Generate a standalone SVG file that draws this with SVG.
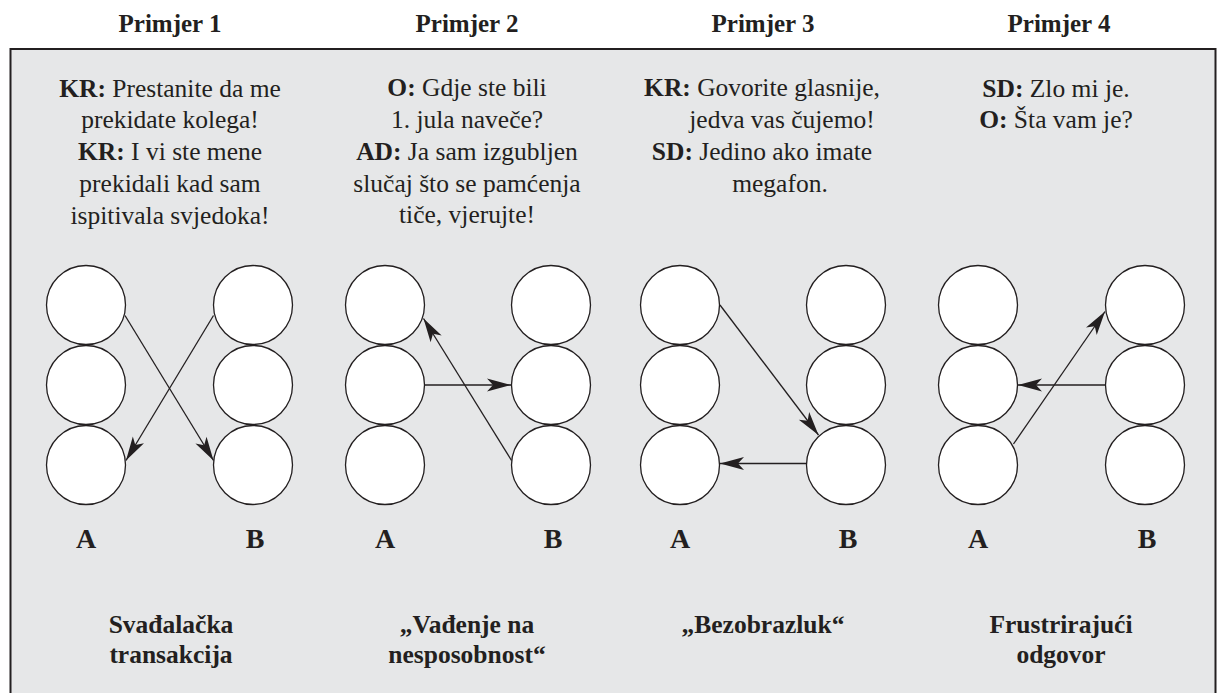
<svg xmlns="http://www.w3.org/2000/svg" width="1219" height="693" viewBox="0 0 1219 693">
<style>
text{font-family:"Liberation Serif","Times New Roman",serif;fill:#231f20;font-size:25.5px;text-anchor:middle}
.h{font-size:25px}
.h,.b,.lbl{font-weight:bold}
.lbl{font-size:28px}
.c{fill:#ffffff;stroke:#231f20;stroke-width:1.3}
.ln{stroke:#231f20;stroke-width:1.3;fill:none;marker-end:url(#ah)}
</style>
<defs>
<marker id="ah" markerUnits="userSpaceOnUse" viewBox="-25 -8 26 16" refX="0" refY="0" markerWidth="26" markerHeight="16" orient="auto">
<path d="M0,0 L-24,-6.5 L-18,0 L-24,6.5 Z" fill="#231f20"/>
</marker>
</defs>
<rect x="0" y="0" width="1219" height="693" fill="#ffffff"/>
<rect x="10.5" y="49" width="1205" height="700" fill="#e6e7e8" stroke="#231f20" stroke-width="2"/>

<g id="headers">
<text class="h" x="170" y="32">Primjer 1</text>
<text class="h" x="467" y="32">Primjer 2</text>
<text class="h" x="763" y="32">Primjer 3</text>
<text class="h" x="1059" y="32">Primjer 4</text>
</g>

<g id="dialog1">
<text x="170" y="97"><tspan class="b">KR:</tspan> Prestanite da me</text>
<text x="170" y="128">prekidate kolega!</text>
<text x="170" y="160"><tspan class="b">KR:</tspan> I vi ste mene</text>
<text x="170" y="192">prekidali kad sam</text>
<text x="170" y="224">ispitivala svjedoka!</text>
</g>
<g id="dialog2">
<text x="467" y="96"><tspan class="b">O:</tspan> Gdje ste bili</text>
<text x="467" y="128">1. jula naveče?</text>
<text x="467" y="160"><tspan class="b">AD:</tspan> Ja sam izgubljen</text>
<text x="467" y="192">slučaj što se pamćenja</text>
<text x="467" y="223">tiče, vjerujte!</text>
</g>
<g id="dialog3">
<text x="762" y="96"><tspan class="b">KR:</tspan> Govorite glasnije,</text>
<text x="782" y="128">jedva vas čujemo!</text>
<text x="762" y="160"><tspan class="b">SD:</tspan> Jedino ako imate</text>
<text x="780" y="192">megafon.</text>
</g>
<g id="dialog4">
<text x="1056" y="97"><tspan class="b">SD:</tspan> Zlo mi je.</text>
<text x="1056" y="128"><tspan class="b">O:</tspan> Šta vam je?</text>
</g>

<g id="ex1-A1"><circle class="c" cx="86" cy="305" r="39.5"/></g>
<g id="ex1-A2"><circle class="c" cx="86" cy="385" r="39.5"/></g>
<g id="ex1-A3"><circle class="c" cx="86" cy="465" r="39.5"/></g>
<g id="ex1-B1"><circle class="c" cx="253" cy="305" r="39.5"/></g>
<g id="ex1-B2"><circle class="c" cx="253" cy="385" r="39.5"/></g>
<g id="ex1-B3"><circle class="c" cx="253" cy="465" r="39.5"/></g>

<g id="ex2-A1"><circle class="c" cx="385" cy="305" r="39.5"/></g>
<g id="ex2-A2"><circle class="c" cx="385" cy="385" r="39.5"/></g>
<g id="ex2-A3"><circle class="c" cx="385" cy="465" r="39.5"/></g>
<g id="ex2-B1"><circle class="c" cx="551" cy="305" r="39.5"/></g>
<g id="ex2-B2"><circle class="c" cx="551" cy="385" r="39.5"/></g>
<g id="ex2-B3"><circle class="c" cx="551" cy="465" r="39.5"/></g>

<g id="ex3-A1"><circle class="c" cx="680" cy="305" r="39.5"/></g>
<g id="ex3-A2"><circle class="c" cx="680" cy="385" r="39.5"/></g>
<g id="ex3-A3"><circle class="c" cx="680" cy="465" r="39.5"/></g>
<g id="ex3-B1"><circle class="c" cx="846" cy="305" r="39.5"/></g>
<g id="ex3-B2"><circle class="c" cx="846" cy="385" r="39.5"/></g>
<g id="ex3-B3"><circle class="c" cx="846" cy="465" r="39.5"/></g>

<g id="ex4-A1"><circle class="c" cx="978" cy="305" r="39.5"/></g>
<g id="ex4-A2"><circle class="c" cx="978" cy="385" r="39.5"/></g>
<g id="ex4-A3"><circle class="c" cx="978" cy="465" r="39.5"/></g>
<g id="ex4-B1"><circle class="c" cx="1145" cy="305" r="39.5"/></g>
<g id="ex4-B2"><circle class="c" cx="1145" cy="385" r="39.5"/></g>
<g id="ex4-B3"><circle class="c" cx="1145" cy="465" r="39.5"/></g>

<g id="connectors">
<line class="ln" x1="125" y1="315.5" x2="213.5" y2="460.5"/>
<line class="ln" x1="213.5" y1="315.5" x2="126" y2="460.5"/>
<line class="ln" x1="424.5" y1="385" x2="511" y2="385"/>
<line class="ln" x1="511.5" y1="460.5" x2="423.5" y2="318.5"/>
<line class="ln" x1="720" y1="305" x2="818.5" y2="435"/>
<line class="ln" x1="806.5" y1="463.5" x2="720" y2="463.5"/>
<line class="ln" x1="1013.5" y1="444" x2="1105" y2="311.5"/>
<line class="ln" x1="1105.5" y1="385" x2="1018" y2="385"/>
</g>

<g id="ab-labels">
<text class="lbl" x="86" y="548">A</text>
<text class="lbl" x="255" y="548">B</text>
<text class="lbl" x="385" y="548">A</text>
<text class="lbl" x="553" y="548">B</text>
<text class="lbl" x="680" y="548">A</text>
<text class="lbl" x="848" y="548">B</text>
<text class="lbl" x="978" y="548">A</text>
<text class="lbl" x="1147" y="548">B</text>
</g>

<g id="captions">
<text class="b" x="171" y="633">Svađalačka</text>
<text class="b" x="171" y="663">transakcija</text>
<text class="b" x="467" y="633">„Vađenje na</text>
<text class="b" x="467" y="663">nesposobnost“</text>
<text class="b" x="763" y="633">„Bezobrazluk“</text>
<text class="b" x="1061" y="633">Frustrirajući</text>
<text class="b" x="1061" y="663">odgovor</text>
</g>
</svg>
